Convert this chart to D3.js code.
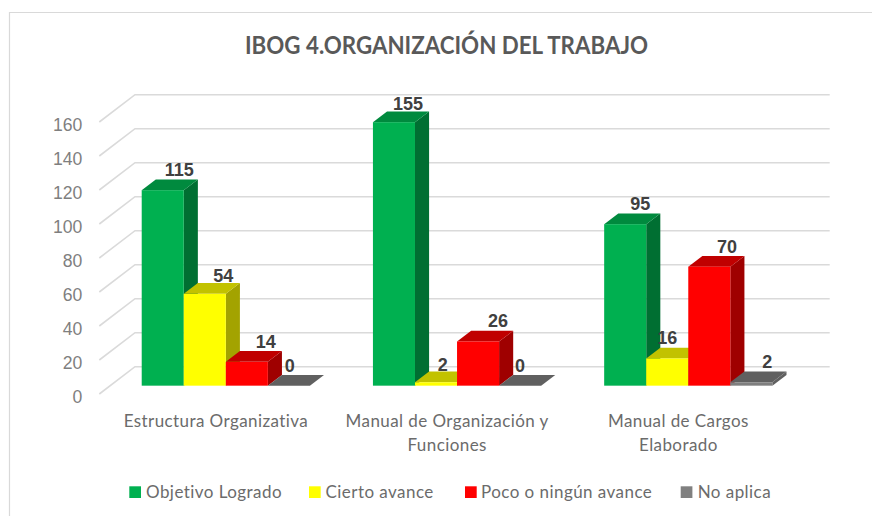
<!DOCTYPE html>
<html><head><meta charset="utf-8">
<script src="https://cdn.jsdelivr.net/npm/d3@7/dist/d3.min.js"></script>
<style>html,body{margin:0;padding:0;background:#fff}svg{display:block}</style>
</head><body><svg id="c" width="872" height="516"></svg>
<script>
const title = "IBOG 4.ORGANIZACIÓN DEL TRABAJO";
const categories = ["Estructura Organizativa", "Manual de Organización y Funciones", "Manual de Cargos Elaborado"];
const categoryLines = [["Estructura Organizativa"], ["Manual de Organización y", "Funciones"], ["Manual de Cargos", "Elaborado"]];
const seriesNames = ["Objetivo Logrado", "Cierto avance", "Poco o ningún avance", "No aplica"];
const objetivoLogrado = [115, 155, 95];
const ciertoAvance = [54, 2, 16];
const pocoAvance = [14, 26, 70];
const noAplica = [0, 0, 2];
const seriesValues = [objetivoLogrado, ciertoAvance, pocoAvance, noAplica];
const yTicks = [0, 20, 40, 60, 80, 100, 120, 140, 160];

const front = ["#00B050", "#FFFF00", "#FF0000", "#7F7F7F"];
const topFace = ["#008A3E", "#C2C200", "#C00000", "#606060"];
const sideFace = ["#006F32", "#A3A300", "#9F0000", "#606060"];
// custom label nudges, by series then category
const labelDx = [[16.5, 14, 15], [18.5, 6.7, 0], [19, 20, 17.7], [1, 0, 16]];
const labelDy = [[-20.5, -19, -21], [-18, -18, -20.5], [-20, -20.5, -20], [-20.5, -20.5, -20.5]];

const svg = d3.select("#c");
const depthX = 35.7, depthY = 27.3, barNear = 0.305, barFar = 0.70, plotRight = 829.7;
const x0 = d3.scaleBand().domain(categories).range([99.3, 793]).paddingInner(0.2726).paddingOuter(0.1363);
const x1 = d3.scaleBand().domain(seriesNames).range([0, x0.bandwidth()]);
const y = d3.scaleLinear().domain([0, 160]).range([394, 122]);

// chart frame
svg.append("path").attr("d", "M9.5,516V12.5H872").attr("fill", "none").attr("stroke", "#D9D9D9").attr("stroke-width", 1.2);

// title
svg.append("text").attr("x", 446.5).attr("y", 54).attr("text-anchor", "middle")
  .attr("font-family", "Lato").attr("font-weight", 700).attr("font-size", 24).attr("fill", "#595959")
  .attr("textLength", 403).attr("lengthAdjust", "spacingAndGlyphs").text(title);

// walls / gridlines
const grid = svg.append("g").attr("fill", "none").attr("stroke", "#DADADA").attr("stroke-width", 1.6);
grid.selectAll("path").data(yTicks).join("path")
  .attr("d", d => `M${x0.range()[0]},${y(d)}L${x0.range()[0] + depthX},${y(d) - depthY}H${plotRight}`);

// value axis
const axis = svg.append("g").attr("transform", "translate(89.3,2.4)")
  .call(d3.axisLeft(y).tickValues(yTicks).tickSize(0).tickPadding(7));
axis.select(".domain").remove();
axis.selectAll("text").attr("font-family", "Liberation Sans").attr("font-size", 17.6).attr("fill", "#7F7F7F");

// bars
const flat = [];
seriesNames.forEach((s, si) => categories.forEach((c, ci) => flat.push({s, si, c, ci, v: seriesValues[si][ci]})));
flat.sort((a, b) => a.ci - b.ci || a.si - b.si);
const dn = barNear, df = barFar - barNear;
const bars = svg.append("g").selectAll("g").data(flat).join("g")
  .attr("transform", `translate(${depthX * dn},${-depthY * dn})`);
const geom = d => ({l: x0(d.c) + x1(d.s), w: x1.bandwidth(), t: y(d.v), b: y(0), dx: depthX * df, dy: depthY * df});
bars.append("path").attr("fill", d => sideFace[d.si]).attr("d", d => {
  const g = geom(d);
  return `M${g.l + g.w},${g.t}l${g.dx},${-g.dy}V${g.b - g.dy}l${-g.dx},${g.dy}Z`;
});
bars.append("path").attr("fill", d => topFace[d.si]).attr("d", d => {
  const g = geom(d);
  return `M${g.l},${g.t}l${g.dx},${-g.dy}h${g.w}l${-g.dx},${g.dy}Z`;
});
bars.append("rect").attr("fill", d => front[d.si])
  .attr("x", d => geom(d).l).attr("y", d => geom(d).t)
  .attr("width", d => geom(d).w).attr("height", d => geom(d).b - geom(d).t);

// data labels
svg.append("g").selectAll("text").data(flat).join("text")
  .attr("x", d => x0(d.c) + x1(d.s) + x1.bandwidth() / 2 + depthX * dn + labelDx[d.si][d.ci])
  .attr("y", d => y(d.v) - depthY * dn + labelDy[d.si][d.ci])
  .attr("dy", "0.36em").attr("text-anchor", "middle")
  .attr("font-family", "Liberation Sans").attr("font-weight", 700).attr("font-size", 18).attr("fill", "#404040")
  .text(d => d.v);

// category labels
const catG = svg.append("g").selectAll("text").data(categories).join("text")
  .attr("text-anchor", "middle").attr("font-family", "Lato").attr("font-size", 17)
  .attr("letter-spacing", 0.42).attr("fill", "#6B6B6B");
catG.each(function(c, i) {
  d3.select(this).selectAll("tspan").data(categoryLines[i]).join("tspan")
    .attr("x", x0(c) + x0.bandwidth() / 2 + 1).attr("y", (d, j) => 426.5 + j * 24.5).text(d => d);
});

// legend
const legendX = [129.3, 309, 465, 680.7], legendTextX = [146, 325.5, 481, 697.7];
const leg = svg.append("g").selectAll("g").data(seriesNames).join("g");
leg.append("rect").attr("x", (d, i) => legendX[i]).attr("y", 486.3).attr("width", 11.7).attr("height", 11.7)
  .attr("fill", (d, i) => i === 3 ? "#808080" : front[i]);
leg.append("text").attr("x", (d, i) => legendTextX[i]).attr("y", 498.2)
  .attr("font-family", "Lato").attr("font-size", 17).attr("letter-spacing", 0.45).attr("fill", "#6B6B6B").text(d => d);
</script></body></html>
